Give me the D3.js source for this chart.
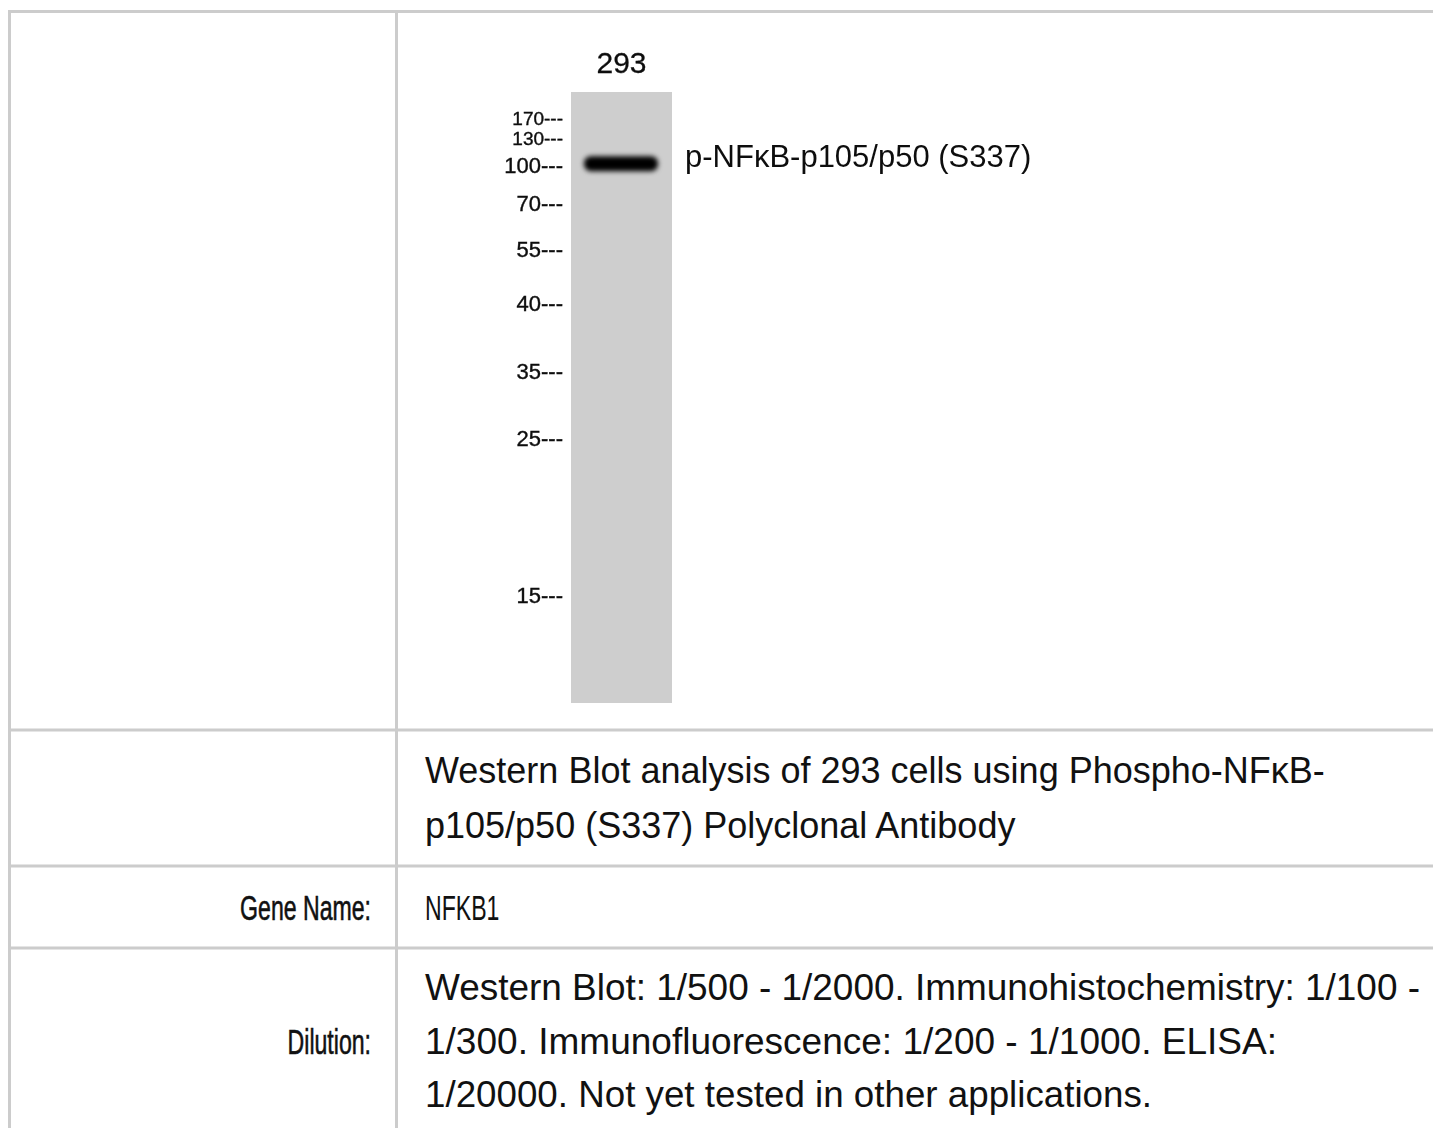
<!DOCTYPE html>
<html>
<head>
<meta charset="utf-8">
<script src="https://cdn.jsdelivr.net/npm/d3@7"></script>
<style>
  body { margin: 0; background: #fff; }
  svg { display: block; }
</style>
</head>
<body>
<script>
// western blot panel + product info table

// lanes on the blot
var lanes = ["293"];

var markerKDa = [170, 130, 100, 70, 55, 40, 35, 25, 15];
var markerRf = [0.043, 0.075, 0.119, 0.182, 0.257, 0.345, 0.456, 0.566, 0.823];

// detected band(s)
var bandLane = ["293"];
var bandKDa = [101];
var bandLabel = "p-NFκB-p105/p50 (S337)";

// table text
var captionLines = [
	"Western Blot analysis of 293 cells using Phospho-NFκB-",
	"p105/p50 (S337) Polyclonal Antibody"
];
var rowLabels = ["Gene Name:", "Dilution:"];
var geneName = ["NFKB1"];
var dilutionLines = [
	"Western Blot: 1/500 - 1/2000. Immunohistochemistry: 1/100 -",
	"1/300. Immunofluorescence: 1/200 - 1/1000. ELISA:",
	"1/20000. Not yet tested in other applications."
];

var W = 1433, H = 1128;
var grid = "#cccccc";
var sans = "'Liberation Sans', Arial, sans-serif";

var svg = d3.select("body").append("svg")
	.attr("width", W)
	.attr("height", H);

svg.append("rect").attr("width", W).attr("height", H).attr("fill", "#fff");

// ---- table grid ----
var colX = 396.5, leftX = 9.5, topY = 11.5;
var rowY = [730, 866, 948];
var gGrid = svg.append("g").attr("stroke", grid).attr("stroke-width", 3).attr("fill", "none");
gGrid.append("line").attr("x1", leftX).attr("x2", W + 5).attr("y1", topY).attr("y2", topY);
gGrid.append("line").attr("x1", leftX).attr("x2", leftX).attr("y1", topY - 1.5).attr("y2", H + 5);
gGrid.append("line").attr("x1", colX).attr("x2", colX).attr("y1", topY).attr("y2", H + 5);
gGrid.selectAll(".hr").data(rowY).enter().append("line")
	.attr("class", "hr")
	.attr("x1", leftX).attr("x2", W + 5)
	.attr("y1", function (d) { return d; })
	.attr("y2", function (d) { return d; });

// ---- blot ----
var laneTop = 92, laneBottom = 703;
var x = d3.scaleBand().domain(lanes).range([571, 672]).padding(0);
var rfY = d3.scaleLinear().domain([0, 1]).range([laneTop, laneBottom]);
// piecewise mapping kDa -> migration, through the ladder
var mw = d3.scaleLinear().domain(markerKDa).range(markerRf);
var y = function (kda) { return rfY(mw(kda)); };

var defs = svg.append("defs");
defs.append("filter").attr("id", "blur")
	.attr("x", "-30%").attr("y", "-150%").attr("width", "160%").attr("height", "400%")
	.append("feGaussianBlur").attr("stdDeviation", 2.4);
defs.append("filter").attr("id", "soft")
	.append("feGaussianBlur").attr("stdDeviation", 0.45);

var gBlot = svg.append("g").attr("font-family", sans);

gBlot.selectAll(".lane").data(lanes).enter().append("rect")
	.attr("class", "lane")
	.attr("x", function (d) { return x(d); })
	.attr("y", laneTop)
	.attr("width", x.bandwidth())
	.attr("height", laneBottom - laneTop)
	.attr("fill", "#cecece");

gBlot.selectAll(".lane-label").data(lanes).enter().append("text")
	.attr("class", "lane-label")
	.attr("x", function (d) { return x(d) + x.bandwidth() / 2; })
	.attr("y", 73)
	.attr("text-anchor", "middle")
	.attr("font-size", 30)
	.attr("fill", "#111")
	.attr("stroke", "#111")
	.attr("stroke-width", 0.3)
	.attr("filter", "url(#soft)")
	.text(function (d) { return d; });

// ladder labels (top two sit close together, as on the original film)
gBlot.selectAll(".marker").data(markerKDa).enter().append("text")
	.attr("class", "marker")
	.attr("x", 563)
	.attr("y", function (d) { return y(d); })
	.attr("dy", "0.36em")
	.attr("text-anchor", "end")
	.attr("font-size", function (d, i) { return i < 2 ? 19 : 22; })
	.attr("fill", "#111")
	.attr("stroke", "#111")
	.attr("stroke-width", 0.4)
	.attr("filter", "url(#soft)")
	.text(function (d) { return d + "---"; });

// band
gBlot.selectAll(".band").data(bandKDa).enter().append("rect")
	.attr("class", "band")
	.attr("x", function (d, i) { return x(bandLane[i]) + 13; })
	.attr("y", function (d) { return y(d) - 7.5; })
	.attr("width", x.bandwidth() - 27)
	.attr("height", 15)
	.attr("rx", 7)
	.attr("fill", "#000")
	.attr("filter", "url(#blur)");

gBlot.selectAll(".band-label").data(bandKDa).enter().append("text")
	.attr("class", "band-label")
	.attr("x", 685)
	.attr("y", function (d) { return y(d); })
	.attr("dy", "0.1em")
	.attr("font-size", 31)
	.attr("fill", "#111")
	.attr("filter", "url(#soft)")
	.text(bandLabel);

// ---- table text ----
var textX = 425;
var gText = svg.append("g").attr("fill", "#111");

gText.selectAll(".caption").data(captionLines).enter().append("text")
	.attr("class", "caption")
	.attr("x", textX)
	.attr("y", function (d, i) { return 783 + i * 55; })
	.attr("font-family", sans)
	.attr("font-size", 36)
	.text(function (d) { return d; });

// condensed face for the row heads and gene symbol
var condensed = function (sel, px, py, anchor) {
	sel.attr("transform", function (d, i) { return "translate(" + px + "," + py(d, i) + ") scale(0.66,1)"; })
		.attr("text-anchor", anchor)
		.attr("font-family", sans)
		.attr("font-size", 35);
};

gText.selectAll(".row-label").data(rowLabels).enter().append("text")
	.attr("class", "row-label")
	.call(condensed, 371, function (d, i) { return [920, 1054][i]; }, "end")
	.attr("stroke", "#111")
	.attr("stroke-width", 0.6)
	.text(function (d) { return d; });

gText.selectAll(".gene").data(geneName).enter().append("text")
	.attr("class", "gene")
	.call(condensed, textX, function () { return 920; }, "start")
	.text(function (d) { return d; });

var dilutionWidth = [995, 852, 727];
gText.selectAll(".dilution").data(dilutionLines).enter().append("text")
	.attr("class", "dilution")
	.attr("x", textX)
	.attr("y", function (d, i) { return 1000 + i * 53.5; })
	.attr("font-family", sans)
	.attr("font-size", 36)
	.attr("textLength", function (d, i) { return dilutionWidth[i]; })
	.attr("lengthAdjust", "spacingAndGlyphs")
	.text(function (d) { return d; });
</script>
</body>
</html>
